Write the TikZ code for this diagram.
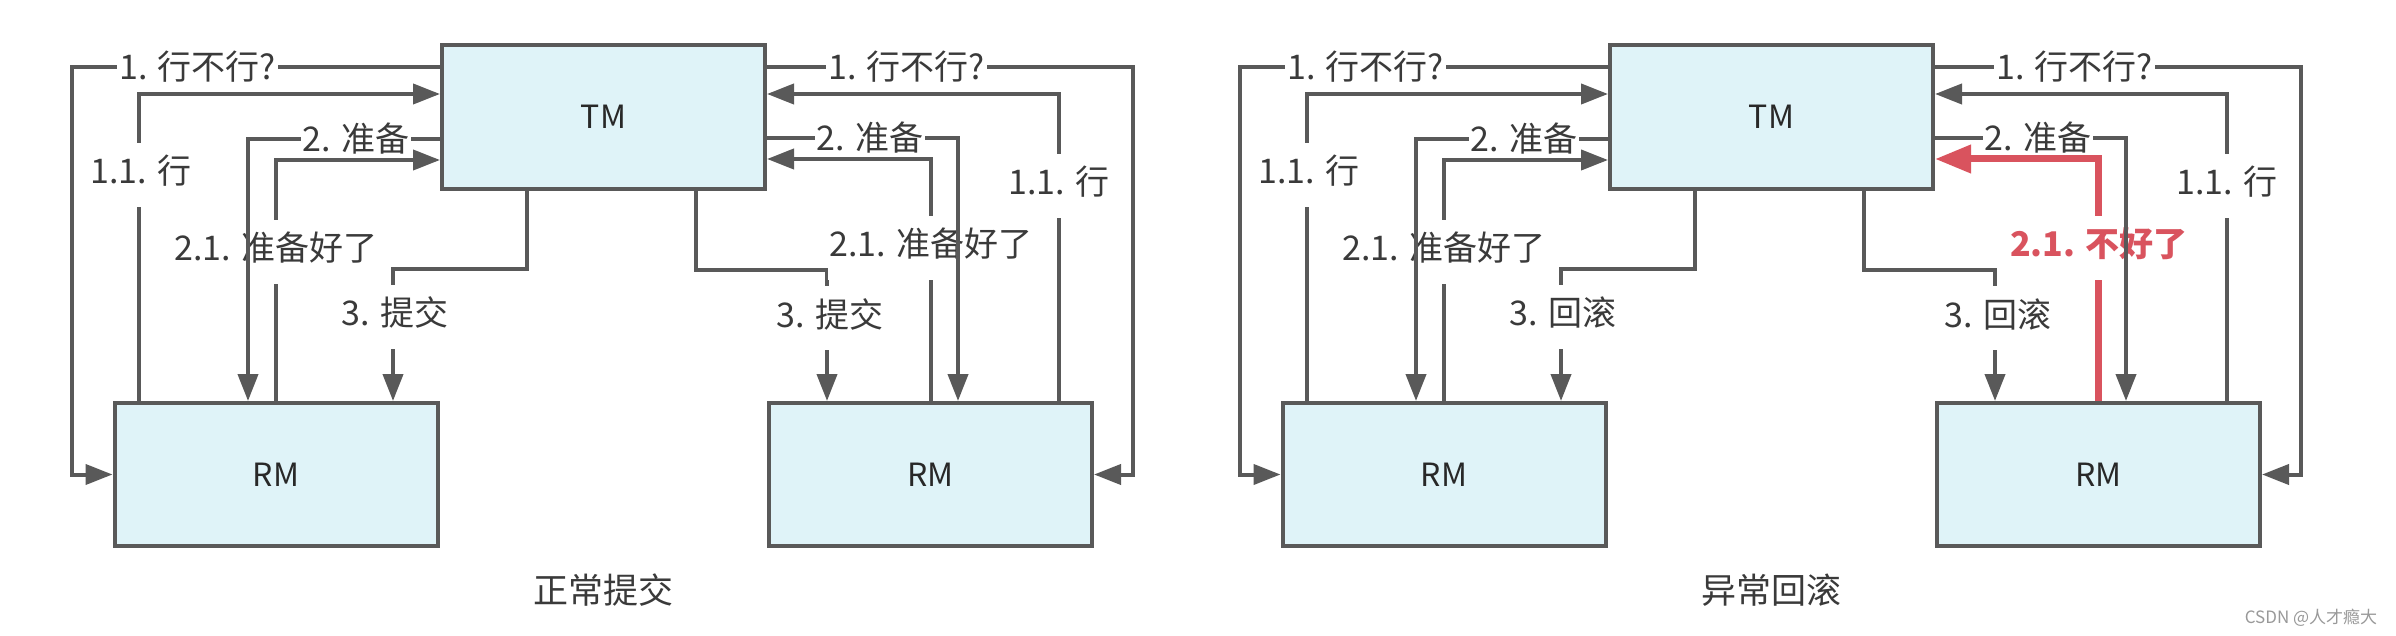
\documentclass[tikz,border=0pt]{standalone}
\usepackage{fontspec}
\setmainfont{Noto Sans CJK SC}
\usetikzlibrary{arrows.meta, positioning, calc}

\begin{document}
\begin{tikzpicture}[x=1pt, y=-1pt,
		box/.style={draw=linegray, line width=4pt, fill=boxfill, minimum width=323pt, minimum height=143pt, font=\fontsize{32}{36}\selectfont, text=boxtext},
		flow/.style={draw=linegray, line width=4pt, -{Triangle[length=27pt, width=20pt]}},
		fail/.style={draw=failred, line width=7pt, -{Triangle[length=36pt, width=27pt]}},
		hlabel/.style={fill=white, inner xsep=2pt, inner ysep=1pt, font=\fontsize{34}{38}\selectfont, text=labeltext},
		vlabel/.style={hlabel, inner ysep=17pt, text height=24pt, text depth=6pt},
		faillabel/.style={vlabel, text=failred, font=\fontsize{34}{38}\selectfont\bfseries},
		caption/.style={font=\fontsize{35}{40}\selectfont, text=labeltext},
		watermark/.style={font=\fontsize{17}{20}\selectfont, text=black!40}
		]
		
		% Define colors
		\definecolor{linegray}{RGB}{89,89,89}
		\definecolor{boxfill}{RGB}{223,243,248}
		\definecolor{boxtext}{RGB}{40,40,40}
		\definecolor{labeltext}{RGB}{58,58,58}
		\definecolor{failred}{RGB}{217,83,94}
		
		\fill[white] (0,0) rectangle (2396,636);
		
		% Two panels: normal commit and rollback
		\foreach \dx/\pn/\actn/\capt/\rstyle/\rlab/\rtext in {0/A/提交/正常提交/flow/vlabel/准备好了, 1168/B/回滚/异常回滚/fail/faillabel/不好了} {
			\begin{scope}[xshift=\dx pt]
				
				% 1. TM and the two RMs
				\node[box, minimum height=144pt] (tm\pn) at (603.5,117) {TM};
				\node[box] (rml\pn) at (276,474.5) {RM};
				\node[box] (rmr\pn) at (930.5,474.5) {RM};
				
				% 2. Ask: TM -> RM
				\draw[flow] (tm\pn.west |- 0,67) -| (72,300) |- (rml\pn.west);
				\draw[flow] (tm\pn.east |- 0,67) -| (1133,300) |- (rmr\pn.east);
				
				% 3. Answer: RM -> TM
				\draw[flow] (rml\pn.north -| 139,0) |- (tm\pn.west |- 0,94);
				\draw[flow] (rmr\pn.north -| 1059,0) |- (tm\pn.east |- 0,94);
				
				% 4. Prepared (or not): RM -> TM
				\draw[flow] (rml\pn.north) |- (tm\pn.west |- 0,160);
				\draw[\rstyle] (rmr\pn.north) |- (tm\pn.east |- 0,159);
				
				% 5. Commit / rollback: TM -> RM
				\draw[flow] (tm\pn.south -| 527,0) |- (393,269) -- (rml\pn.north -| 393,0);
				\draw[flow] (tm\pn.south -| 696,0) |- (827,270) -- (rmr\pn.north -| 827,0);
				
				% Labels
				\node[hlabel] (askl\pn) at (197.5,67) {1. 行不行?\hspace{12pt}};
				\node[hlabel] (askr\pn) at (906.5,67) {1. 行不行?\hspace{12pt}};
				\node[vlabel] (okl\pn) at (141,175) {1.1. 行};
				\node[vlabel] (okr\pn) at (1059,186) {1.1. 行};
				\node[vlabel] (readyl\pn) at (276,252) {2.1. 准备好了};
				\node[\rlab] (readyr\pn) at (931,248) {2.1. \rtext};
				\node[vlabel] (actl\pn) at (395,317) {3. \actn};
				\node[vlabel] (actr\pn) at (830,318) {3. \actn};
				
				% 6. Prepare: TM -> RM (runs over the 2.1 labels)
				\draw[flow] (tm\pn.west |- 0,139) -| (rml\pn.north -| 248,0);
				\draw[flow] (tm\pn.east |- 0,138) -| (rmr\pn.north -| 958,0);
				\node[hlabel] (prepl\pn) at (356,139) {2. 准备};
				\node[hlabel] (prepr\pn) at (870,138) {2. 准备};
				
				% Caption
				\node[caption] (cap\pn) at (603.5,590) {\capt};
			\end{scope}
		}
		
		\node[watermark] (wm) at (2311,618) {CSDN @人才瘾大};
		
	\end{tikzpicture}
\end{document}
